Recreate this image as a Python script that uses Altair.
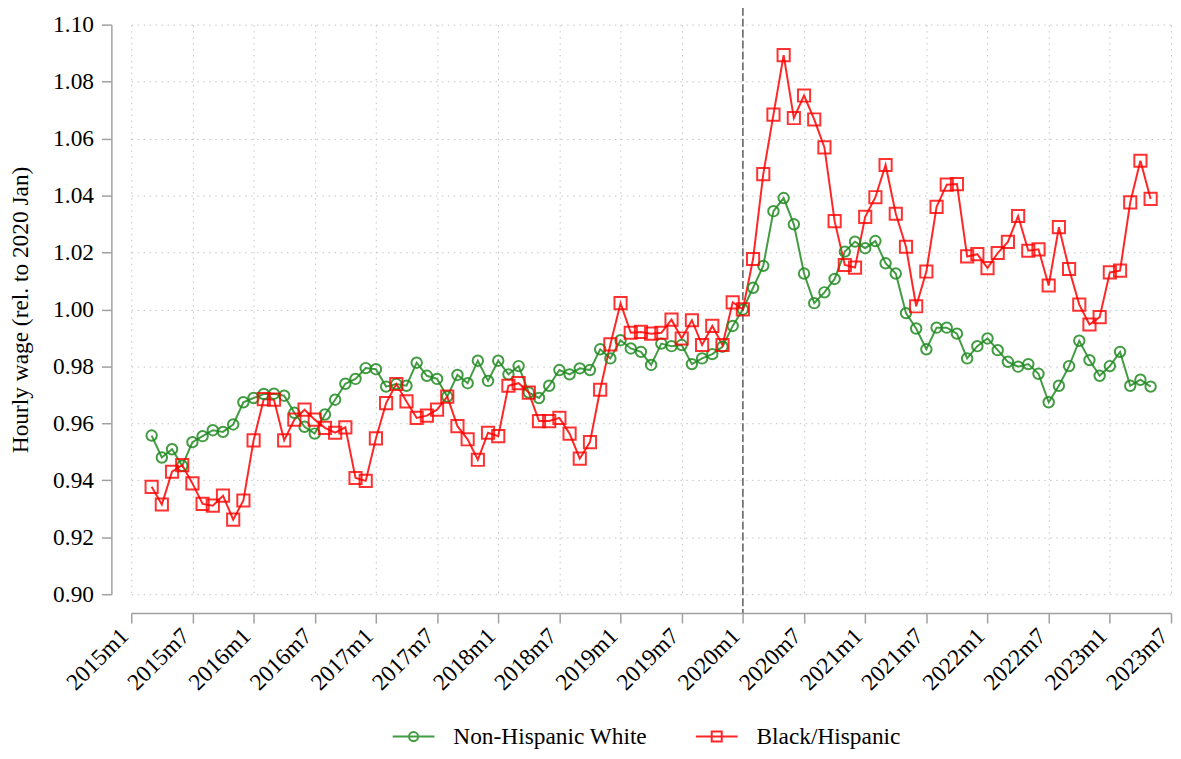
import altair as alt
import pandas as pd

# Monthly index: 0 = 2015m1; data run from 2015m3 (index 2) to 2023m5
first_month = 2

white = [
    0.9557, 0.9480, 0.9509, 0.9451, 0.9534, 0.9555, 0.9576, 0.9570, 0.9596, 0.9674,
    0.9689, 0.9703, 0.9704, 0.9697, 0.9637, 0.9588, 0.9564, 0.9631, 0.9683, 0.9739, 0.9756, 0.9794,
    0.9790, 0.9729, 0.9738, 0.9732, 0.9813, 0.9767, 0.9756, 0.9694, 0.9770, 0.9741, 0.9820, 0.9749,
    0.9820, 0.9772, 0.9801, 0.9708, 0.9689, 0.9732, 0.9787, 0.9772, 0.9793, 0.9787, 0.9860, 0.9828,
    0.9892, 0.9863, 0.9851, 0.9805, 0.9880, 0.9871, 0.9875, 0.9808, 0.9828, 0.9843, 0.9869, 0.9942,
    1.0000, 1.0076, 1.0153, 1.0345, 1.0391, 1.0299, 1.0126, 1.0022, 1.0060, 1.0107, 1.0203, 1.0238,
    1.0215, 1.0240, 1.0162, 1.0126, 0.9987, 0.9933, 0.9860, 0.9936, 0.9936, 0.9915, 0.9828, 0.9871,
    0.9898, 0.9857, 0.9816, 0.9799, 0.9808, 0.9774, 0.9674, 0.9732, 0.9801, 0.9890, 0.9822, 0.9767,
    0.9801, 0.9851, 0.9732, 0.9753, 0.9729,
]

black_hispanic = [
    0.9377, 0.9315, 0.9430, 0.9453, 0.9389, 0.9317, 0.9311, 0.9346, 0.9262, 0.9329,
    0.9540, 0.9685, 0.9683, 0.9540, 0.9613, 0.9648, 0.9613, 0.9584, 0.9567, 0.9586, 0.9408, 0.9398,
    0.9547, 0.9671, 0.9738, 0.9677, 0.9619, 0.9627, 0.9648, 0.9694, 0.9590, 0.9544, 0.9472, 0.9567,
    0.9555, 0.9732, 0.9741, 0.9708, 0.9608, 0.9608, 0.9619, 0.9564, 0.9476, 0.9534, 0.9718, 0.9877,
    1.0022, 0.9918, 0.9921, 0.9915, 0.9918, 0.9964, 0.9898, 0.9962, 0.9875, 0.9942, 0.9875, 1.0025,
    1.0000, 1.0177, 1.0475, 1.0684, 1.0893, 1.0672, 1.0751, 1.0667, 1.0569, 1.0310, 1.0156, 1.0147,
    1.0325, 1.0394, 1.0507, 1.0336, 1.0220, 1.0011, 1.0133, 1.0360, 1.0438, 1.0440, 1.0186, 1.0194,
    1.0145, 1.0198, 1.0237, 1.0328, 1.0206, 1.0211, 1.0084, 1.0289, 1.0142, 1.0017, 0.9947, 0.9973,
    1.0130, 1.0136, 1.0376, 1.0522, 1.0388,
]

series_names = ["Non-Hispanic White", "Black/Hispanic"]
series_colors = ["#228B22", "#FF0000"]
x_tick_values = list(range(0, 103, 6))
y_tick_values = [0.90, 0.92, 0.94, 0.96, 0.98, 1.00, 1.02, 1.04, 1.06, 1.08, 1.10]
ref_month = [60]  # 2020m1
y_title = "Hourly wage (rel. to 2020 Jan)"

n = len(white)
months = list(range(first_month, first_month + n))
df = pd.DataFrame({
    "m": months + months,
    "v": white + black_hispanic,
    "series": [series_names[0]] * n + [series_names[1]] * n,
})

FONT = "Liberation Serif"
FS = 23.5
W, H = 1046, 573

x_enc = alt.X(
    "m:Q",
    scale=alt.Scale(domain=[0, 102], nice=False, zero=False),
    axis=alt.Axis(
        values=x_tick_values,
        labelExpr="(floor(datum.value / 12) + 2015) + 'm' + (datum.value % 12 + 1)",
        labelAngle=-45, labelAlign="right", labelBaseline="alphabetic",
        labelPadding=14, labelOffset=-2, labelOverlap=False, labelBound=False, labelFlush=False,
        offset=19, title=None, grid=True,
    ),
)
y_enc = alt.Y(
    "v:Q",
    scale=alt.Scale(domain=[0.9, 1.1], nice=False, zero=False),
    axis=alt.Axis(
        values=y_tick_values, format=".2f", offset=20, title=y_title,
        labelPadding=8, labelOverlap=False, labelFlush=False, titlePadding=20, grid=True,
    ),
)
color_scale = alt.Scale(domain=series_names, range=series_colors)
color_plain = alt.Color("series:N", scale=color_scale)

legend_props = dict(
    orient="none", legendX=262, legendY=694, direction="horizontal", title=None,
    labelFont=FONT, labelFontSize=FS, labelColor="black", labelOffset=18, labelLimit=0,
    columnPadding=44, symbolSize=1764, symbolStrokeWidth=2, symbolOpacity=0.85,
    symbolFillColor="transparent",
)
circle_path = "M-1,0H1M0.22,0A0.22,0.22,0,1,1,-0.22,0A0.22,0.22,0,1,1,0.22,0"
square_path = "M-1,0H1M-0.24,-0.24H0.24V0.24H-0.24Z"

base = alt.Chart(df)

legend_layer = base.transform_filter("false").mark_point(
    filled=False, strokeWidth=2, opacity=0.85
).encode(
    x=x_enc, y=y_enc,
    color=alt.Color("series:N", scale=color_scale, legend=alt.Legend(**legend_props)),
    shape=alt.Shape("series:N", scale=alt.Scale(domain=series_names, range=[circle_path, square_path]),
                    legend=alt.Legend(**legend_props)),
)

lines = base.mark_line(strokeWidth=2, opacity=0.85).encode(x=x_enc, y=y_enc, color=color_plain)
pts_white = base.transform_filter(alt.datum.series == series_names[0]).mark_point(
    shape="circle", filled=False, size=110, strokeWidth=2, opacity=0.85
).encode(x=x_enc, y=y_enc, color=color_plain)
pts_black = base.transform_filter(alt.datum.series == series_names[1]).mark_point(
    shape="square", filled=False, size=150, strokeWidth=2, opacity=0.8
).encode(x=x_enc, y=y_enc, color=color_plain)

ref_rule = alt.Chart(pd.DataFrame({"m": ref_month})).mark_rule(
    strokeDash=[8, 3], color="#707070", strokeWidth=1.7
).encode(x=alt.X("m:Q"), y=alt.value(-17), y2=alt.value(H + 19))

chart = alt.layer(ref_rule, legend_layer, lines, pts_white, pts_black).properties(
    width=W, height=H,
    autosize="none",
    padding={"left": 124, "top": 14.5, "right": 2, "bottom": 155},
    background="white",
).configure_view(stroke=None).configure_axis(
    labelFont=FONT, labelFontSize=FS, labelColor="black",
    titleFont=FONT, titleFontSize=FS, titleFontWeight="normal", titleColor="black",
    domainColor="#a0a0a0", domainWidth=1.5, tickColor="#a0a0a0", tickWidth=1.5, tickSize=10,
    gridColor="#c4c4c4", gridDash=[1.5, 4.5], gridWidth=1,
)

chart.save("out.html", embed_options={"renderer": "svg", "actions": False})
